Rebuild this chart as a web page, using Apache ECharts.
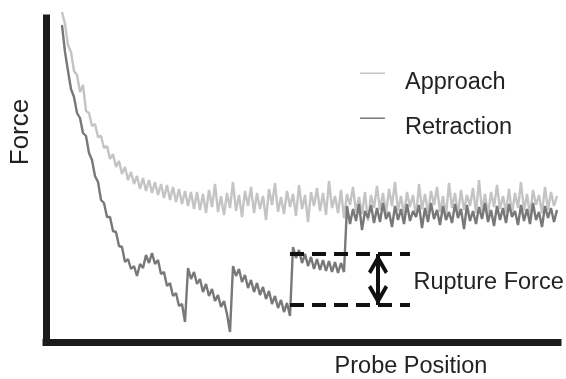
<!DOCTYPE html>
<html>
<head>
<meta charset="utf-8">
<script src="https://cdn.jsdelivr.net/npm/echarts@6/dist/echarts.min.js"></script>
<style>
  html, body { margin: 0; padding: 0; background: #fff; }
  #main { width: 566px; height: 379px; }
</style>
</head>
<body>
<div id="main"></div>
<script>
const FONT = '"Liberation Sans", Arial, Helvetica, sans-serif';

// sampling grid along probe position (arbitrary units)
const startPos = 16;
const step = 3;

// approach trace (arbitrary force units)
const approachForce = [
  330, 318, 297, 290, 271, 267, 250, 257, 231, 229,
  216, 218, 205, 206, 194, 196, 183, 188, 175, 181,
  168, 175, 162, 170, 158, 166, 153, 164, 151, 162,
  149, 160, 147, 158, 144, 157, 142, 155, 140, 153,
  138, 151, 136, 150, 133,
  150, 132, 148, 129, 152, 135, 158, 130, 146, 127,
  149, 134, 160, 131, 147, 125, 151, 136, 155, 129,
  149, 133, 146, 122, 153, 137, 159, 130, 145, 128,
  151, 135, 148, 126, 157, 133, 147, 120, 150, 136,
  154, 131, 149, 127, 161, 134, 146, 129, 152, 124,
  148, 137, 155, 130, 145, 128, 150, 121, 147, 134,
  156, 132, 149, 128, 153, 136, 160, 131, 146, 127,
  150, 135, 147, 125, 158, 133, 148, 129, 151, 137,
  155, 130, 146, 126, 159, 134, 149, 128, 152, 132,
  147, 136, 154, 129, 162, 131, 148, 127, 150, 135,
  157, 133, 146, 130, 153, 128, 149, 134, 160, 131,
  148, 126, 152, 137, 147, 129, 155, 132, 150, 136,
  146
];

// retraction trace with rupture events
const retractionForce = [
  317, 290, 271, 253, 245, 229, 224, 209, 206, 189,
  182, 166, 160, 142, 139, 125, 125, 111, 110, 96,
  95, 80, 83, 73, 76, 66, 78, 74, 87, 79,
  89, 78, 82, 68, 70, 56, 59, 46, 49, 36,
  38, 20, 74, 63, 70, 58, 63, 50, 58, 46,
  53, 41, 47, 35, 41, 28, 10, 76, 66, 73,
  60, 67, 54, 62, 50, 59, 47, 55, 43, 51,
  38, 46, 34, 42, 30, 39, 26, 95, 84, 92,
  79, 88, 76, 85, 73, 83, 72, 82, 71, 81,
  70, 80, 69, 79, 70,
  136, 118, 133, 121, 138, 112, 131, 124, 137, 119,
  134, 120, 139, 123, 130, 115, 136, 122, 133, 118,
  138, 121, 131, 125, 137, 114, 134, 120, 139, 123,
  132, 117, 136, 122, 130, 119, 138, 124, 133, 113,
  137, 121, 131, 118, 135, 123, 139, 120, 132, 116,
  136, 122, 134, 119, 138, 125, 131, 117, 137, 121,
  133, 118, 139, 122, 130, 115, 136, 124, 134, 120,
  132
];

// rupture force annotation
const ruptureTop = 88;
const ruptureBottom = 37;
const ruptureX = 332;
const dashFrom = 244;
const dashTo = 364;
const ruptureLabelPos = [367, 59];

const seriesNames = ['Approach', 'Retraction'];

const toPairs = arr => arr.map((f, i) => [startPos + i * step, f]);

// V shaped arrow head, tip in the middle of its box
const chevron = 'path://M10,-20L10.05,-20L10,-19.95Z M10,0L20,17.5L17,20L10,8L3,20L0,17.5Z';
// legend icon: thin line at the top of a taller box
const legendIcon = 'path://M0,0L0.05,0L0,0.05Z M0,2.5L25,2.5L25,4L0,4Z M40,26L40.05,26L40,25.95Z';

var myChart = echarts.init(document.getElementById('main'));
var option = {
  animation: false,
  grid: { left: 46, right: 8, top: 18, bottom: 37, outerBoundsMode: 'none' },
  legend: {
    data: seriesNames,
    orient: 'vertical',
    left: 360,
    top: 70,
    padding: 0,
    itemWidth: 40,
    itemHeight: 26,
    itemGap: 19,
    icon: legendIcon,
    itemStyle: { borderWidth: 0 },
    textStyle: { fontSize: 23.5, color: '#222', fontFamily: FONT },
    selectedMode: false
  },
  xAxis: {
    type: 'value',
    min: 0,
    max: 512,
    name: 'Probe Position',
    nameLocation: 'middle',
    nameGap: 13,
    nameTextStyle: { fontSize: 23.5, color: '#222', fontFamily: FONT, padding: [0, 0, 0, 218] },
    axisLine: { lineStyle: { color: '#1b1b1b', width: 7, cap: 'square' } },
    axisTick: { show: false },
    axisLabel: { show: false },
    splitLine: { show: false }
  },
  yAxis: {
    type: 'value',
    min: 0,
    max: 324,
    name: 'Force',
    nameLocation: 'middle',
    nameGap: 12,
    nameTextStyle: { fontSize: 26, color: '#222', fontFamily: FONT, padding: [0, 0, 0, 96] },
    axisLine: { show: true, lineStyle: { color: '#1b1b1b', width: 7, cap: 'square' } },
    axisTick: { show: false },
    axisLabel: { show: false },
    splitLine: { show: false }
  },
  series: [{
    name: 'Approach',
    type: 'line',
    data: toPairs(approachForce),
    showSymbol: false,
    clip: false,
    color: '#c4c4c4',
    lineStyle: { color: '#c4c4c4', width: 2.4 },
    silent: true,
    markLine: {
      silent: true,
      animation: false,
      label: { show: false },
      lineStyle: { color: '#111', width: 4, type: 'solid' },
      symbol: [chevron, chevron],
      symbolSize: [20, 40],
      data: [
        [{ coord: [ruptureX, ruptureBottom] }, { coord: [ruptureX, ruptureTop] }]
      ]
    }
  }, {
    name: 'Retraction',
    type: 'line',
    data: toPairs(retractionForce),
    showSymbol: false,
    clip: false,
    color: '#787878',
    lineStyle: { color: '#787878', width: 2.4 },
    silent: true,
    markLine: {
      silent: true,
      animation: false,
      symbol: ['none', 'none'],
      label: { show: false },
      lineStyle: { color: '#111', width: 4, type: [14, 8] },
      data: [
        [{ coord: [dashFrom, ruptureTop] }, { coord: [dashTo, ruptureTop] }],
        [{ coord: [dashFrom, ruptureBottom] }, { coord: [dashTo, ruptureBottom] }]
      ]
    },
    markPoint: {
      silent: true,
      animation: false,
      symbol: 'circle',
      symbolSize: 1,
      itemStyle: { color: 'rgba(0,0,0,0)' },
      label: {
        show: true,
        position: 'right',
        distance: 0,
        formatter: 'Rupture Force',
        fontSize: 23.5,
        color: '#222',
        fontFamily: FONT
      },
      data: [{ coord: ruptureLabelPos }]
    }
  }]
};
myChart.setOption(option);
</script>
</body>
</html>
